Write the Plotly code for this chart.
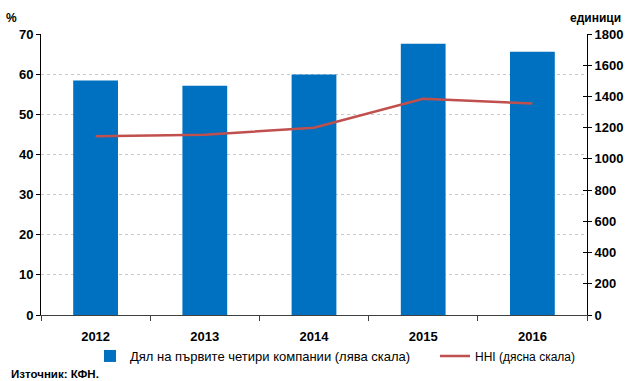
import plotly.graph_objects as go

# Market concentration data
years = ["2012", "2013", "2014", "2015", "2016"]
top4_share = [58.4, 57.1, 59.9, 67.6, 65.6]      # %, left axis
hhi = [1145, 1155, 1200, 1385, 1355]              # units, right axis

left_ticks = [0, 10, 20, 30, 40, 50, 60, 70]
right_ticks = [0, 200, 400, 600, 800, 1000, 1200, 1400, 1600, 1800]

BLUE = "#0070C0"
RED = "#C0504D"
FONT = "Liberation Sans"

W, H = 633, 381
ML, MR, MT, MB = 41, 46, 34, 66
pw = W - ML - MR
ph = H - MT - MB


def px_to_paper(px, py):
    return (px - ML) / pw, (H - MB - py) / ph


fig = go.Figure()

fig.add_trace(go.Bar(
    x=years, y=top4_share, width=0.41,
    marker=dict(color=BLUE, line=dict(width=0)),
    name="Дял на първите четири компании (лява скала)",
    legend="legend",
))
fig.add_trace(go.Scatter(
    x=years, y=hhi, yaxis="y2", mode="lines",
    line=dict(color=RED, width=2.5),
    name="HHI (дясна скала)",
    legend="legend2",
))
# inner half of the right-axis tick marks
fig.add_trace(go.Scatter(
    x=years, y=hhi, yaxis="y3", mode="lines",
    line=dict(color="rgba(0,0,0,0)", width=0),
    showlegend=False, hoverinfo="skip",
))

tick_font = dict(family=FONT, size=13, color="#000000", weight="bold")

lx1, ly = px_to_paper(90, 356)
lx2, _ = px_to_paper(435, 356)
px_pct = px_to_paper(11, 18)
px_src = px_to_paper(9, 374)
px_units = px_to_paper(595, 18)

fig.update_layout(
    width=W, height=H,
    margin=dict(l=ML, r=MR, t=MT, b=MB, autoexpand=False),
    paper_bgcolor="white", plot_bgcolor="white",
    xaxis=dict(
        type="category", tickson="boundaries",
        ticks="outside", ticklen=5, tickcolor="#404040",
        showline=True, linecolor="#404040", linewidth=1,
        showgrid=False, tickfont=tick_font, ticklabelstandoff=9,
    ),
    yaxis=dict(
        range=[0, 70], tickvals=left_ticks,
        ticks="outside", ticklen=4, tickcolor="#000000",
        showline=True, linecolor="#000000", linewidth=1,
        showgrid=True, gridcolor="#C8C8C8", griddash="dot", gridwidth=1,
        tickfont=tick_font, zeroline=False,
    ),
    yaxis2=dict(
        range=[0, 1800], tickvals=right_ticks, overlaying="y", side="right",
        ticks="outside", ticklen=4, tickcolor="#000000",
        showline=True, linecolor="#000000", linewidth=1,
        showgrid=False, tickfont=tick_font, zeroline=False,
    ),
    yaxis3=dict(
        range=[0, 1800], tickvals=right_ticks, overlaying="y", side="right",
        ticks="inside", ticklen=4, tickcolor="#000000",
        showline=False, showgrid=False, showticklabels=False, zeroline=False,
    ),
    showlegend=True,
    legend=dict(
        orientation="h", x=lx1, xanchor="left", y=ly, yanchor="middle",
        font=dict(family=FONT, size=13, color="#000000"),
        itemwidth=30, bgcolor="rgba(0,0,0,0)",
    ),
    legend2=dict(
        orientation="h", x=lx2, xanchor="left", y=ly, yanchor="middle",
        font=dict(family=FONT, size=12, color="#000000"),
        itemwidth=30, bgcolor="rgba(0,0,0,0)",
    ),
    annotations=[
        dict(text="%", x=px_pct[0], y=px_pct[1], xref="paper", yref="paper",
             xanchor="center", yanchor="middle", showarrow=False,
             font=dict(family=FONT, size=12, color="#000000", weight="bold")),
        dict(text="Източник: КФН.", x=px_src[0], y=px_src[1],
             xref="paper", yref="paper", xanchor="left", yanchor="middle",
             showarrow=False,
             font=dict(family=FONT, size=11.5, color="#000000", weight="bold")),
        dict(text="единици", x=px_units[0], y=px_units[1],
             xref="paper", yref="paper", xanchor="center", yanchor="middle",
             showarrow=False,
             font=dict(family=FONT, size=12, color="#000000", weight="bold")),
    ],
)

fig.write_html("out.html")
